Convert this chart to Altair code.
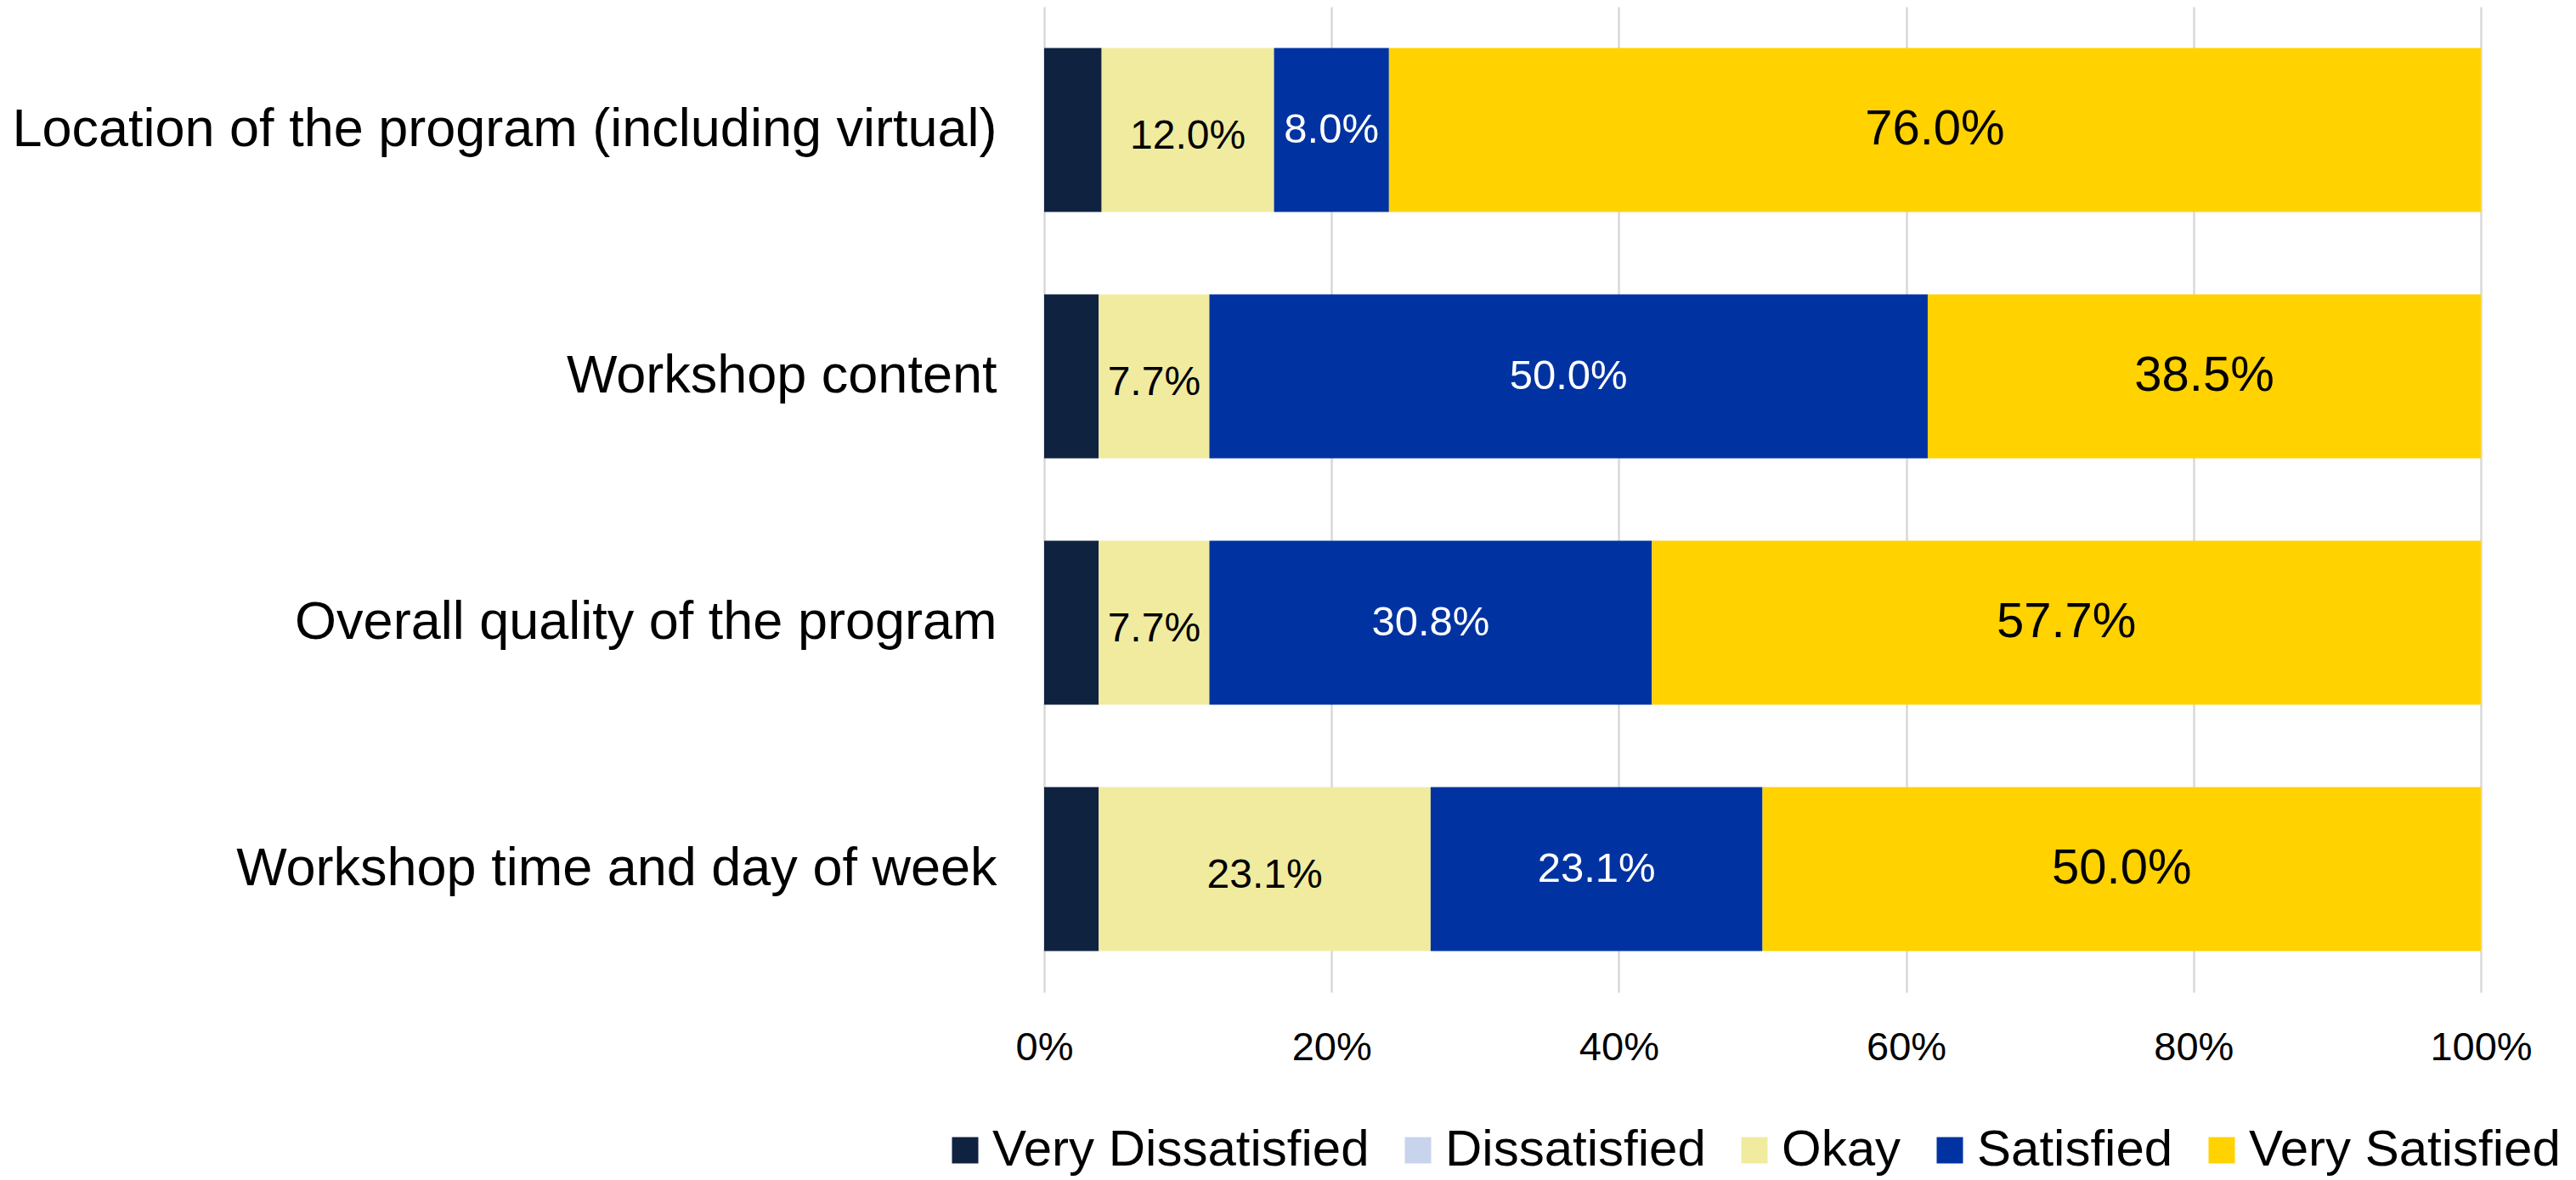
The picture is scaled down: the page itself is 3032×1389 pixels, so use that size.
import altair as alt
import pandas as pd

items = [
    "Location of the program (including virtual)",
    "Workshop content",
    "Overall quality of the program",
    "Workshop time and day of week",
]
levels = ["Very Dissatisfied", "Dissatisfied", "Okay", "Satisfied", "Very Satisfied"]
colors = ["#0f2340", "#c8d3ec", "#f0eb9f", "#0033a1", "#ffd200"]

very_dissatisfied = [4.0, 3.8, 3.8, 3.8]
dissatisfied = [0.0, 0.0, 0.0, 0.0]
okay = [12.0, 7.7, 7.7, 23.1]
satisfied = [8.0, 50.0, 30.8, 23.1]
very_satisfied = [76.0, 38.5, 57.7, 50.0]

tick_values = [0, 0.2, 0.4, 0.6, 0.8, 1.0]

series = [very_dissatisfied, dissatisfied, okay, satisfied, very_satisfied]
rows = []
for i, item in enumerate(items):
    cum = 0.0
    for lvl, vals in zip(levels, series):
        v = vals[i] / 100.0
        rows.append(dict(item=item, level=lvl, value=v, start=cum, end=cum + v, mid=cum + v / 2))
        cum += v
df = pd.DataFrame(rows)

FONT = "Liberation Sans"

y_axis = alt.Axis(
    labelFontSize=63,
    labelFont=FONT,
    labelColor="#000000",
    labelPadding=56,
    ticks=False,
    domain=False,
    labelLimit=3000,
    title=None,
)
y_scale = alt.Scale(paddingInner=0.335, paddingOuter=0.1675)

x_axis = alt.Axis(
    values=tick_values,
    format="%",
    labelFontSize=47,
    labelFont=FONT,
    labelColor="#000000",
    labelPadding=42,
    labelFlush=False,
    ticks=False,
    domain=False,
    grid=True,
    gridColor="#d9d9d9",
    gridWidth=2.5,
    title=None,
)
x_scale = alt.Scale(domain=[0, 1], nice=False)

base = alt.Chart(df)

bars = base.mark_bar().encode(
    x=alt.X("start:Q", title=None, scale=x_scale, axis=x_axis),
    x2="end:Q",
    y=alt.Y("item:N", sort=items, title=None, scale=y_scale, axis=y_axis),
    color=alt.Color(
        "level:N",
        scale=alt.Scale(domain=levels, range=colors),
        legend=alt.Legend(
            title=None,
            orient="none",
            legendX=-123,
            legendY=1316,
            direction="horizontal",
            labelFontSize=60,
            labelFont=FONT,
            labelColor="#000000",
            symbolType="square",
            symbolSize=961,
            symbolStrokeWidth=0,
            labelOffset=2,
            columnPadding=27,
            labelLimit=3000,
            padding=0,
        ),
    ),
)

def label_layer(level, size, color, dy=0):
    return (
        base.transform_filter(alt.datum.level == level)
        .mark_text(fontSize=size, font=FONT, color=color, dy=dy, baseline="middle", align="center")
        .encode(
            x=alt.X("mid:Q", title=None, scale=x_scale, axis=x_axis),
            y=alt.Y("item:N", sort=items, title=None, scale=y_scale, axis=y_axis),
            text=alt.Text("value:Q", format=".1%"),
        )
    )

chart = (
    alt.layer(
        bars,
        label_layer("Okay", 48, "#000000", dy=8),
        label_layer("Satisfied", 49, "#ffffff"),
        label_layer("Very Satisfied", 58, "#000000"),
    )
    .properties(
        width=1691,
        height=1160,
        padding={"left": 5, "top": 0, "right": 0, "bottom": 0},
    )
    .configure_view(stroke=None)
)

chart.save("out.html", embed_options={"renderer": "svg", "actions": False})
